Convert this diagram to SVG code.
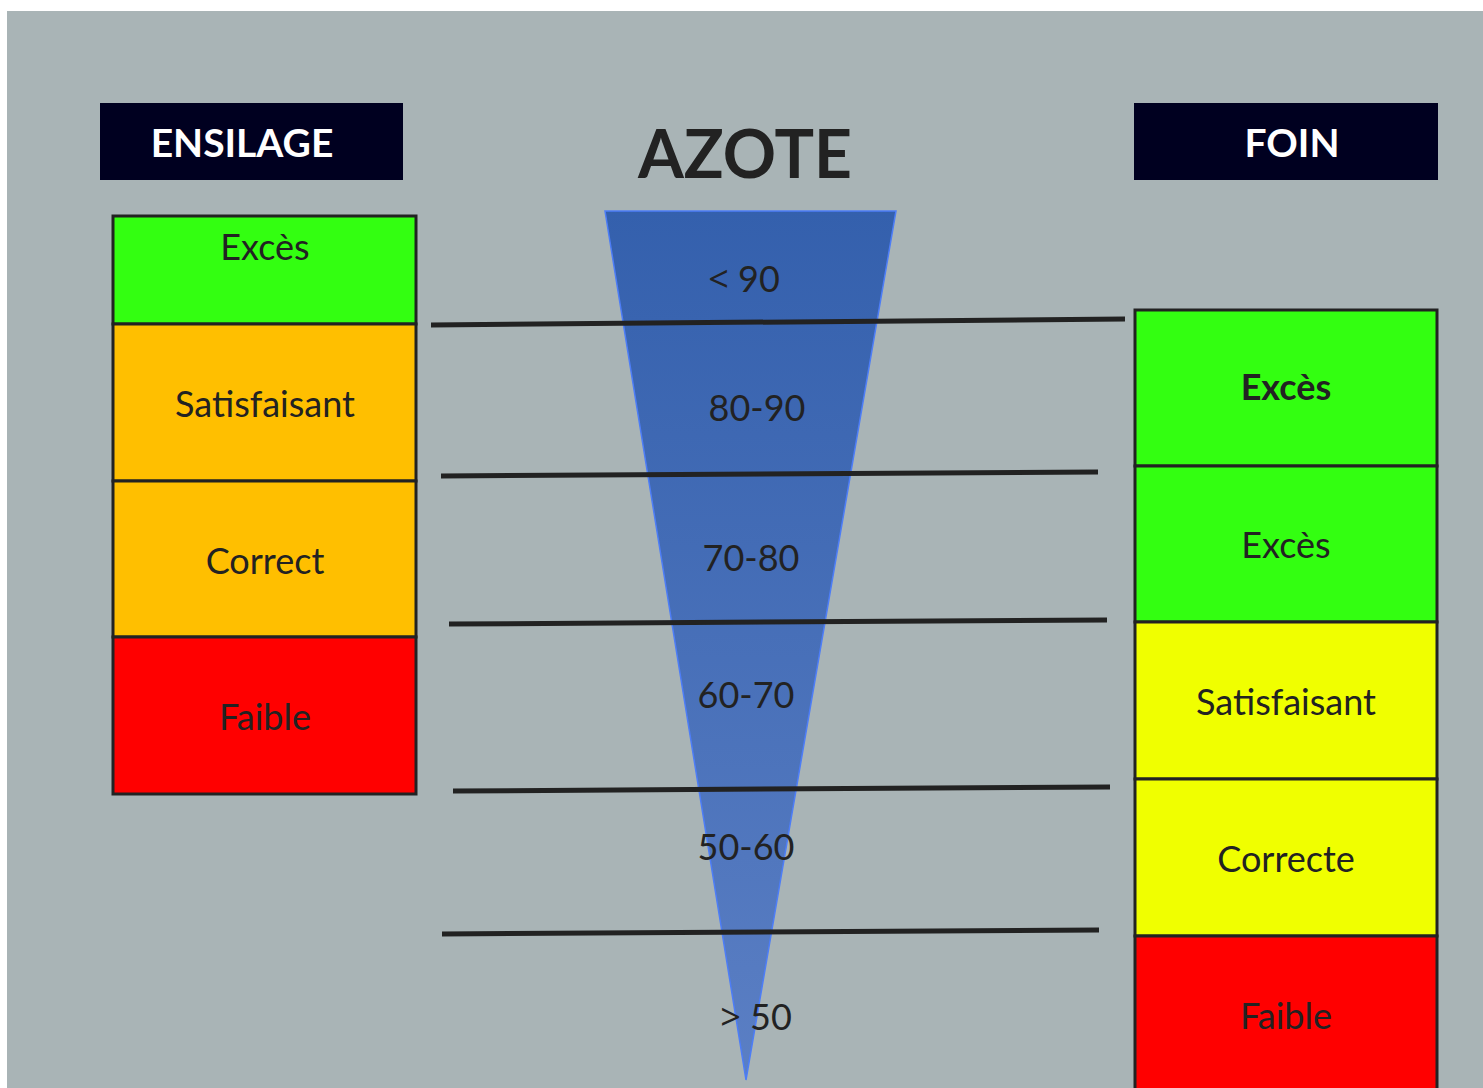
<svg xmlns="http://www.w3.org/2000/svg" width="1483" height="1088" viewBox="0 0 1483 1088">
<defs>
<linearGradient id="tri" x1="0" y1="0" x2="0" y2="1">
<stop offset="0" stop-color="#3460AD"/>
<stop offset="1" stop-color="#5B7FC4"/>
</linearGradient>
</defs>
<style>
.hdr{fill:#000020}
.hdrt{font-family:Lato,"Open Sans",sans-serif;font-weight:bold;font-size:39px;fill:#ffffff;text-anchor:middle}
.cell{stroke:#222222;stroke-width:3}
.g{fill:#33FF11}.o{fill:#FFBF00}.r{fill:#FF0000}.y{fill:#F0FF00}
.t{font-family:Lato,"Open Sans",sans-serif;font-size:36px;fill:#222222;text-anchor:middle}
.sym{font-family:"Open Sans",sans-serif}
.sep{stroke:#222222;stroke-width:5;fill:none}
</style>
<rect width="1483" height="1088" fill="#ffffff"/>
<rect x="7" y="11" width="1476" height="1077" fill="#A9B4B6"/>

<g id="ensilage-header">
<rect class="hdr" x="100" y="103" width="303" height="77"/>
<text class="hdrt" x="242" y="157">ENSILAGE</text>
</g>
<g id="foin-header">
<rect class="hdr" x="1134" y="103" width="304" height="77"/>
<text class="hdrt" x="1292" y="157">FOIN</text>
</g>
<g id="azote-title">
<text x="745" y="178" style="font-family:Lato,'Open Sans',sans-serif;font-weight:bold;font-size:66px;fill:#222222;text-anchor:middle">AZOTE</text>
</g>

<g id="azote-triangle">
<polygon points="605,211 896,211 746,1080" fill="url(#tri)" stroke="#4D7DF7" stroke-width="1.5"/>
</g>

<g id="ensilage-column">
<g id="e-exces"><rect class="cell g" x="113" y="216" width="303" height="108"/><text class="t" x="265" y="260">Excès</text></g>
<g id="e-satisfaisant"><rect class="cell o" x="113" y="324" width="303" height="157"/><text class="t" x="265" y="417">Satisfaisant</text></g>
<g id="e-correct"><rect class="cell o" x="113" y="481" width="303" height="156"/><text class="t" x="265" y="574">Correct</text></g>
<g id="e-faible"><rect class="cell r" x="113" y="637" width="303" height="157"/><text class="t" x="265" y="730">Faible</text></g>
</g>

<g id="foin-column">
<g id="f-exces1"><rect class="cell g" x="1135" y="310" width="302" height="156"/><text class="t" x="1286" y="400" font-weight="bold">Excès</text></g>
<g id="f-exces2"><rect class="cell g" x="1135" y="466" width="302" height="156"/><text class="t" x="1286" y="558">Excès</text></g>
<g id="f-satisfaisant"><rect class="cell y" x="1135" y="622" width="302" height="157"/><text class="t" x="1286" y="715">Satisfaisant</text></g>
<g id="f-correcte"><rect class="cell y" x="1135" y="779" width="302" height="157"/><text class="t" x="1286" y="872">Correcte</text></g>
<g id="f-faible"><rect class="cell r" x="1135" y="936" width="302" height="160"/><text class="t" x="1286" y="1029">Faible</text></g>
</g>

<g id="connectors">
<line class="sep" x1="431" y1="325" x2="1125" y2="319" stroke-width="3.5"/>
<line class="sep" x1="441" y1="476" x2="1098" y2="472"/>
<line class="sep" x1="449" y1="624" x2="1107" y2="620"/>
<line class="sep" x1="453" y1="791" x2="1110" y2="787"/>
<line class="sep" x1="442" y1="934" x2="1099" y2="930"/>
</g>

<g id="azote-labels">
<text class="t" x="744" y="292"><tspan class="sym">&lt;</tspan> 90</text>
<text class="t" x="757" y="421">80-90</text>
<text class="t" x="751" y="571">70-80</text>
<text class="t" x="746" y="708">60-70</text>
<text class="t" x="746" y="860">50-60</text>
<text class="t" x="756" y="1030"><tspan class="sym">&gt;</tspan> 50</text>
</g>
</svg>
